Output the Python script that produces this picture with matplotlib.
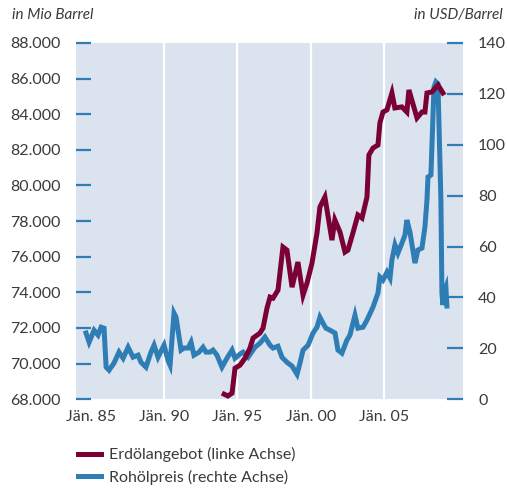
import matplotlib
matplotlib.use("Agg")
import matplotlib.pyplot as plt
from matplotlib.lines import Line2D

# --- data ---
supply_years = [1994.10, 1994.35, 1994.64, 1994.84, 1995.18, 1995.52, 1995.86, 1996.07,
                1996.54, 1996.75, 1997.02, 1997.23, 1997.43, 1997.77, 1998.11, 1998.38,
                1998.73, 1999.13, 1999.48, 1999.75, 2000.09, 2000.43, 2000.63, 2000.97,
                2001.45, 2001.65, 2002.00, 2002.34, 2002.54, 2002.88, 2003.22, 2003.50,
                2003.84, 2003.97, 2004.25, 2004.59, 2004.72, 2004.93, 2005.20, 2005.54,
                2005.74, 2006.22, 2006.56, 2006.70, 2007.25, 2007.59, 2007.79, 2007.93,
                2008.27, 2008.68, 2009.02]
supply_mio_barrel = [68280, 68180, 68340, 69740, 69910, 70300, 70870, 71430,
                     71710, 71990, 73110, 73730, 73670, 74120, 76540, 76370,
                     74290, 75700, 73840, 74520, 75640, 77330, 78790, 79350,
                     76930, 78060, 77380, 76260, 76370, 77330, 78340, 78170,
                     79350, 81710, 82100, 82270, 83510, 84120, 84240, 85190,
                     84350, 84410, 84120, 85360, 83790, 84120, 84120, 85190,
                     85250, 85640, 85190]

price_years = [1984.68, 1984.89, 1985.23, 1985.50, 1985.71, 1985.91, 1986.05, 1986.25,
               1986.59, 1986.93, 1987.21, 1987.55, 1987.89, 1988.23, 1988.43, 1988.77,
               1989.11, 1989.32, 1989.59, 1989.93, 1990.00, 1990.27, 1990.41, 1990.68,
               1990.82, 1991.16, 1991.36, 1991.64, 1991.84, 1992.04, 1992.39, 1992.66,
               1992.86, 1993.14, 1993.34, 1993.61, 1993.95, 1994.29, 1994.64, 1994.84,
               1995.18, 1995.39, 1995.73, 1996.20, 1996.54, 1996.88, 1997.23, 1997.43,
               1997.77, 1998.04, 1998.38, 1998.73, 1999.07, 1999.27, 1999.48, 1999.82,
               2000.16, 2000.43, 2000.63, 2000.84, 2001.04, 2001.32, 2001.66, 2001.86,
               2002.13, 2002.47, 2002.68, 2003.02, 2003.22, 2003.57, 2003.84, 2004.25,
               2004.59, 2004.72, 2004.93, 2005.20, 2005.41, 2005.54, 2005.75, 2005.95,
               2006.22, 2006.43, 2006.56, 2006.77, 2007.11, 2007.31, 2007.59, 2007.79,
               2007.93, 2008.00, 2008.20, 2008.41, 2008.54, 2008.68, 2008.88, 2008.95,
               2009.02, 2009.15, 2009.22, 2009.29]
price_usd = [26.0, 22.4, 27.1, 25.2, 28.3, 27.9, 12.6, 11.4,
             14.2, 18.5, 16.1, 20.4, 16.5, 17.3, 14.5, 12.6,
             18.5, 21.2, 16.5, 20.4, 21.2, 15.3, 13.4, 33.8,
             32.2, 19.3, 20.1, 20.1, 22.4, 17.3, 18.5, 20.4,
             18.5, 18.5, 19.3, 17.3, 12.6, 16.1, 19.3, 16.1,
             17.7, 18.5, 16.5, 20.4, 22.0, 24.4, 21.2, 20.1,
             20.8, 16.5, 14.5, 13.0, 9.8, 14.2, 19.3, 21.2,
             26.0, 28.3, 32.2, 29.9, 27.9, 27.1, 26.0, 19.3,
             18.1, 23.2, 25.2, 33.0, 27.9, 28.3, 31.1, 36.2,
             41.7, 48.0, 46.8, 49.9, 47.6, 54.7, 60.6, 57.4,
             61.3, 64.5, 70.4, 65.7, 53.5, 58.6, 59.4, 67.6,
             78.3, 87.3, 88.1, 122.7, 124.7, 123.9, 78.3, 41.7,
             37.0, 42.9, 44.0, 36.6]

left_ticks = [68000, 70000, 72000, 74000, 76000, 78000, 80000, 82000, 84000, 86000, 88000]
right_ticks = [0, 20, 40, 60, 80, 100, 120, 140]
x_ticks = [1985, 1990, 1995, 2000, 2005]
x_labels = ["Jän. 85", "Jän. 90", "Jän. 95", "Jän. 00", "Jän. 05"]
grid_years = [1990, 1995, 2000, 2005]

RED = "#7b0036"
BLUE = "#2f7db5"
BG = "#dae3ee"
TXT = "#3a3a3a"

plt.rcParams["font.family"] = ["Lato", "DejaVu Sans"]

fig = plt.figure(figsize=(5.07, 4.88), dpi=100)
ax = fig.add_axes([0.150, 0.182, 0.763, 0.730])
ax2 = ax.twinx()

# background on the right axis, left axis drawn on top so red overlays blue
ax2.patch.set_visible(True)
ax2.set_facecolor(BG)
ax.set_zorder(ax2.get_zorder() + 1)
ax.patch.set_visible(False)

for g in grid_years:
    ax2.axvline(g, color="white", lw=1.6, zorder=1)

ax2.plot(price_years, price_usd, color=BLUE, lw=3.6, solid_joinstyle="miter", zorder=3)
ax.plot(supply_years, supply_mio_barrel, color=RED, lw=3.6, solid_joinstyle="miter", zorder=3)

ax.set_xlim(1984.0, 2010.38)
ax.set_ylim(68000, 88000)
ax2.set_ylim(0, 140)

ax.set_yticks(left_ticks)
ax.set_yticklabels([f"{v:,}".replace(",", ".") for v in left_ticks])
ax2.set_yticks(right_ticks)
ax.set_xticks(x_ticks)
ax.set_xticklabels(x_labels)

for a in (ax, ax2):
    for s in a.spines.values():
        s.set_visible(False)

ax.tick_params(axis="y", direction="in", length=11, width=1.6, color=BLUE,
               pad=11, labelsize=11.5, labelcolor=TXT)
ax2.tick_params(axis="y", direction="in", length=11.5, width=1.6, color=BLUE,
                pad=11, labelsize=11.5, labelcolor=TXT)
ax.tick_params(axis="x", length=0, pad=8, labelsize=11.5, labelcolor=TXT)
ax2.tick_params(axis="x", length=0)

fig.text(12 / 507, 1 - 15 / 488, "in Mio Barrel", style="italic", fontsize=11,
         color=TXT, ha="left", va="center")
fig.text(503 / 507, 1 - 15 / 488, "in USD/Barrel", style="italic", fontsize=11,
         color=TXT, ha="right", va="center")

handles = [Line2D([], [], color=RED, lw=3.6), Line2D([], [], color=BLUE, lw=3.6)]
fig.legend(handles, ["Erdölangebot (linke Achse)", "Rohölpreis (rechte Achse)"],
           loc="upper left", bbox_to_anchor=(64 / 507, 1 - 433 / 488), frameon=False,
           fontsize=11.5, handlelength=1.4, handletextpad=0.5, labelspacing=0.45,
           labelcolor=TXT)

fig.savefig("out.png", dpi=100)
